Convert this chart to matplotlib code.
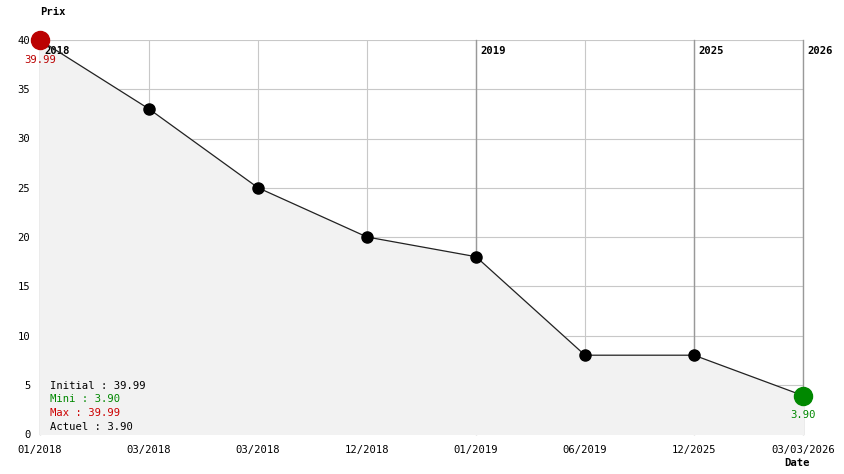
import matplotlib
matplotlib.use("Agg")
import matplotlib.pyplot as plt

dates = ["01/2018", "03/2018", "03/2018", "12/2018", "01/2019", "06/2019", "12/2025", "03/03/2026"]
prices = [39.99, 33, 25, 20, 18, 8, 8, 3.90]
year_marks = [(0, "2018"), (4, "2019"), (6, "2025"), (7, "2026")]
yticks = [0, 5, 10, 15, 20, 25, 30, 35, 40]
legend_lines = [("Initial : 39.99", "#000000"), ("Mini : 3.90", "#008800"),
                ("Max : 39.99", "#cc0000"), ("Actuel : 3.90", "#000000")]

mono = ["DejaVu Sans Mono"]
fs = 7.6
W, H = 844, 474
fig = plt.figure(figsize=(W / 100, H / 100), dpi=100)
ax = fig.add_axes([40 / W, (H - 434) / H, (803 - 40) / W, (434 - 40) / H])
x = list(range(len(dates)))
ax.set_xlim(0, len(dates) - 1)
ax.set_ylim(0, 40)

ax.fill_between(x, prices, 0, color="#f2f2f2", zorder=1)
for yt in yticks:
    ax.axhline(yt, color="#c8c8c8", lw=0.8, zorder=0.5)
for xi in x:
    ax.axvline(xi, color="#c8c8c8", lw=0.8, zorder=0.5)
for xi, lab in year_marks:
    ax.axvline(xi, color="#999999", lw=1.0, zorder=0.6, clip_on=False)
    ax.text(xi + 0.04, 38.9, lab, fontfamily=mono, fontweight="bold", fontsize=fs,
            va="center", ha="left", zorder=3)

ax.plot(x, prices, color="#222222", lw=0.9, zorder=4)
ax.plot(x[1:-1], prices[1:-1], "o", color="black", ms=8, zorder=5)
ax.plot(x[0], prices[0], "o", color="#bb0000", ms=13, zorder=6, clip_on=False)
ax.plot(x[-1], prices[-1], "o", color="#008800", ms=13, zorder=6, clip_on=False)
ax.text(x[0], prices[0] - 2.0, f"{prices[0]:.2f}", color="#bb0000", fontfamily=mono,
        fontsize=fs, ha="center", va="center", zorder=7)
ax.text(x[-1], prices[-1] - 2.0, f"{prices[-1]:.2f}", color="#008800", fontfamily=mono,
        fontsize=fs, ha="center", va="center", zorder=7)

for i, (t, c) in enumerate(legend_lines):
    ax.text(0.09, 4.9 - i * 1.38, t, color=c, fontfamily=mono, fontsize=fs,
            ha="left", va="center", zorder=7)

ax.set_xticks(x)
ax.set_xticklabels(dates, fontfamily=mono, fontsize=fs)
ax.set_yticks(yticks)
ax.set_yticklabels([str(v) for v in yticks], fontfamily=mono, fontsize=fs)
ax.tick_params(length=0, pad=7)
ax.tick_params(axis="x", pad=8)
for s in ax.spines.values():
    s.set_visible(False)

fig.text(53 / W, 1 - 12 / H, "Prix", fontfamily=mono, fontweight="bold", fontsize=fs,
         ha="center", va="center")
fig.text(797 / W, 1 - 463 / H, "Date", fontfamily=mono, fontweight="bold", fontsize=fs,
         ha="center", va="center")

fig.savefig("out.png", dpi=100)
